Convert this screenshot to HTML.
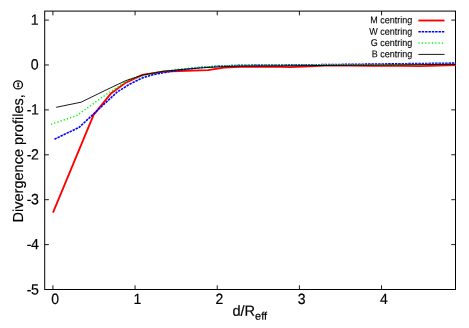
<!DOCTYPE html>
<html>
<head>
<meta charset="utf-8">
<style>
html,body{margin:0;padding:0;background:#fff;}
body{width:469px;height:328px;overflow:hidden;}
svg{display:block;will-change:transform;}
text{text-rendering:geometricPrecision;font-family:"Liberation Sans",sans-serif;fill:#000;stroke:#000;stroke-width:0.18px;}
.lg text{stroke-width:0.1px;}
</style>
</head>
<body>
<svg width="469" height="328" viewBox="0 0 469 328">
<rect width="469" height="328" fill="#fff"/>
<!-- border -->
<g stroke="#000" stroke-width="1" fill="none">
<rect x="44.70" y="11.10" width="410.80" height="278.40"/>
<path stroke-width="0.9" d="M52.92,289.50v-4.2M135.08,289.50v-4.2M217.24,289.50v-4.2M299.40,289.50v-4.2M381.56,289.50v-4.2"/>
<path stroke-width="0.9" d="M52.92,11.10v4.2M135.08,11.10v4.2M217.24,11.10v4.2M299.40,11.10v4.2M381.56,11.10v4.2"/>
<path stroke-width="0.9" d="M44.70,20.08h4.2M44.70,64.98h4.2M44.70,109.89h4.2M44.70,154.79h4.2M44.70,199.69h4.2M44.70,244.60h4.2"/>
<path stroke-width="0.9" d="M455.50,20.08h-4.2M455.50,64.98h-4.2M455.50,109.89h-4.2M455.50,154.79h-4.2M455.50,199.69h-4.2M455.50,244.60h-4.2"/>
</g>
<!-- y tick labels -->
<g font-size="14.9" text-anchor="end">
<text transform="translate(38.6,24.68) rotate(0.03) scale(0.95,1)">1</text>
<text transform="translate(38.6,69.58) rotate(0.03) scale(0.95,1)">0</text>
<text transform="translate(38.4,114.49) rotate(0.03) scale(0.95,1)" letter-spacing="-0.5">-1</text>
<text transform="translate(38.4,159.39) rotate(0.03) scale(0.95,1)" letter-spacing="-0.5">-2</text>
<text transform="translate(38.4,204.29) rotate(0.03) scale(0.95,1)" letter-spacing="-0.5">-3</text>
<text transform="translate(38.4,249.20) rotate(0.03) scale(0.95,1)" letter-spacing="-0.5">-4</text>
<text transform="translate(38.4,294.40) rotate(0.03) scale(0.95,1)" letter-spacing="-0.5">-5</text>
</g>
<!-- x tick labels -->
<g font-size="14.9" text-anchor="middle">
<text transform="translate(55.1,303.95) rotate(0.03) scale(0.94,1)">0</text>
<text transform="translate(137.3,303.95) rotate(0.03) scale(0.94,1)">1</text>
<text transform="translate(219.4,303.95) rotate(0.03) scale(0.94,1)">2</text>
<text transform="translate(301.6,303.95) rotate(0.03) scale(0.94,1)">3</text>
<text transform="translate(383.8,303.95) rotate(0.03) scale(0.94,1)">4</text>
</g>
<!-- axis labels -->
<text transform="translate(232.4,315.8) rotate(0.03)" font-size="14.6">d/R<tspan font-size="11" dy="4">eff</tspan></text>
<text transform="translate(23.0,222.4) rotate(-90)" font-size="14.5">Divergence profiles,</text>
<g fill="none" stroke="#000"><ellipse cx="18.05" cy="84.9" rx="4.4" ry="4.05" stroke-width="1.25"/><path d="M18.2,83.2V86.6" stroke-width="1.2"/><path d="M16.9,83.2H19.5M16.9,86.6H19.5" stroke-width="0.8"/></g>
<!-- curves -->
<g fill="none" stroke-linejoin="round">
<polyline stroke="#f00" stroke-width="1.85" points="53,212.6 93.6,114.8 111,93.4 125.8,82.6 142.5,74.9 164,71.5 208,70.1 224,67.6 240,66.8 270,66.6 290,67.2 310,66.4 325,65.7 350,65.6 370,65.9 400,65.9 420,66.1 456,65.1"/>
<polyline stroke="#00f" stroke-width="1.6" stroke-dasharray="2.45,0.9" points="54.5,139.2 79.2,127.3 104,104.2 117,92.2 129,84.5 141,78.5 153,74.7 165,72.4 178,70.2 200,67.5 220,66.1 240,65.3 270,65 310,64.8 380,64 456,63.1"/>
<polyline stroke="#0f0" stroke-width="1.5" stroke-dasharray="1.25,2.1" points="51,124.4 77,115.5 102.5,97 128,80 153,73 178.5,69.2 200,67.2 220,66 240,65.3 270,65 310,64.9 345,64.7 380,64.8 456,64.1"/>
<polyline stroke="#000" stroke-width="0.9" points="56.2,107.3 81.1,102.2 106,90 125.8,80.6 143.9,74.7 164.4,71.2 180,69.6 200,68 220,66.8 240,66.1 270,65.9 310,65.6 380,65 456,64.3"/>
</g>
<!-- legend -->
<g class="lg" font-size="9" text-anchor="end">
<text transform="translate(412.3,23.3) rotate(0.03) scale(1,1.08)">M centring</text>
<text transform="translate(412.3,34.65) rotate(0.03) scale(1,1.08)">W centring</text>
<text transform="translate(412.3,46.0) rotate(0.03) scale(1,1.08)">G centring</text>
<text transform="translate(412.3,57.35) rotate(0.03) scale(1,1.08)">B centring</text>
</g>
<g fill="none">
<path d="M418.4,20.5H444.5" stroke="#f00" stroke-width="1.85"/>
<path d="M418.4,31.8H444.5" stroke="#00f" stroke-width="1.6" stroke-dasharray="2.45,0.9"/>
<path d="M418.4,43.1H444.5" stroke="#0f0" stroke-width="1.5" stroke-dasharray="1.25,2.1"/>
<path d="M418.4,54.4H444.5" stroke="#000" stroke-width="0.9"/>
</g>
</svg>
</body>
</html>
